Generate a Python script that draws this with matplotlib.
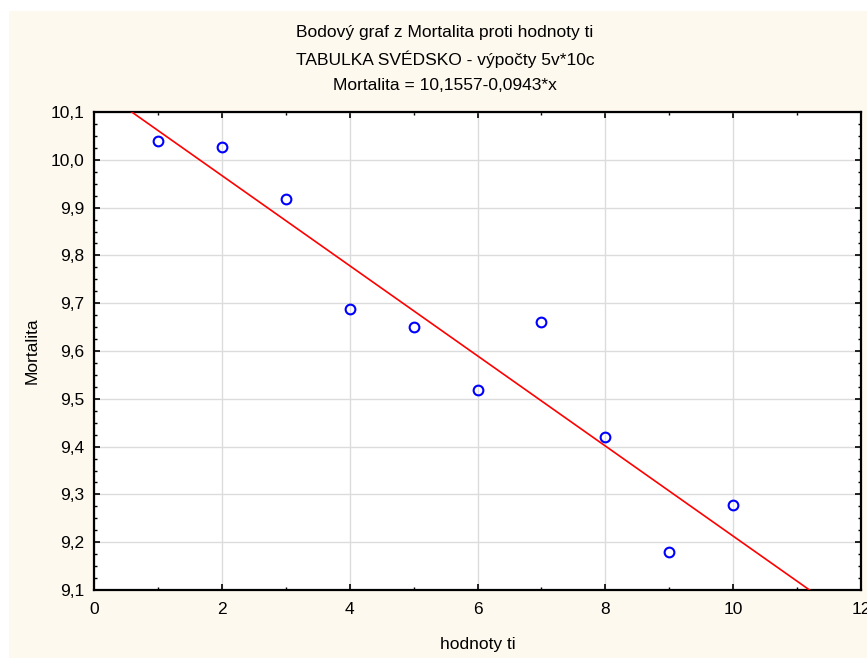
import matplotlib
matplotlib.use("Agg")
import matplotlib.pyplot as plt
from matplotlib.ticker import MultipleLocator, FuncFormatter
import numpy as np

plt.rcParams['font.family'] = ['Liberation Sans', 'DejaVu Sans']

x_vals = [1, 2, 3, 4, 5, 6, 7, 8, 9, 10]
mortalita = [10.039, 10.027, 9.918, 9.688, 9.650, 9.518, 9.661, 9.420, 9.179, 9.278]
intercept = 10.1557
slope = -0.0943
title_lines = ["Bodový graf z Mortalita proti hodnoty ti",
               "TABULKA SVÉDSKO - výpočty 5v*10c",
               "Mortalita = 10,1557-0,0943*x"]
xlabel = "hodnoty ti"
ylabel = "Mortalita"

W, H = 867, 658
fig = plt.figure(figsize=(W / 100, H / 100), dpi=100)
fig.patch.set_facecolor('white')
cream = '#FEF9EE'
fig.patches.append(plt.Rectangle((9 / W, 0), 1 - 9 / W, 1 - 11 / H,
                                 transform=fig.transFigure, facecolor=cream,
                                 edgecolor='none', zorder=-10))

ax = fig.add_axes([94 / W, 1 - 590 / H, (861 - 94) / W, (590 - 112) / H])
ax.set_facecolor('white')
ax.set_xlim(0, 12)
ax.set_ylim(9.1, 10.1)

ax.xaxis.set_major_locator(MultipleLocator(2))
ax.xaxis.set_minor_locator(MultipleLocator(1))
ax.yaxis.set_major_locator(MultipleLocator(0.1))
ax.yaxis.set_minor_locator(MultipleLocator(0.025))
ax.yaxis.set_major_formatter(FuncFormatter(lambda v, p: f"{v:.1f}".replace('.', ',')))
ax.xaxis.set_major_formatter(FuncFormatter(lambda v, p: f"{v:.0f}"))

ax.grid(True, which='major', color='#DCDCDC', linewidth=1.0)
ax.set_axisbelow(True)

ax.tick_params(which='both', direction='in', top=True, right=True,
               labelsize=12.5, colors='black')
ax.tick_params(which='major', length=4, width=1.2, pad=7)
ax.tick_params(which='minor', length=2.5, width=1.0)
ax.tick_params(axis='x', which='major', pad=9)
for s in ax.spines.values():
    s.set_linewidth(1.6)
    s.set_color('black')

xl = np.array(ax.get_xlim())
ax.plot(xl, intercept + slope * xl, color='#FF0000', linewidth=1.2, zorder=3)
ax.plot(x_vals, mortalita, linestyle='none', marker='o', markersize=7,
        markerfacecolor='none', markeredgecolor='#0000FF', markeredgewidth=1.5, zorder=4)
ax.set_xlim(0, 12)

ax.set_xlabel(xlabel, fontsize=12.5, labelpad=14)
ax.set_ylabel(ylabel, fontsize=12.5, labelpad=8)

for i, t in enumerate(title_lines):
    fig.text(445 / W, 1 - (33 + 26 * i) / H, t, ha='center', va='center', fontsize=12.5)

fig.savefig('out.png', dpi=100, facecolor=fig.get_facecolor())
